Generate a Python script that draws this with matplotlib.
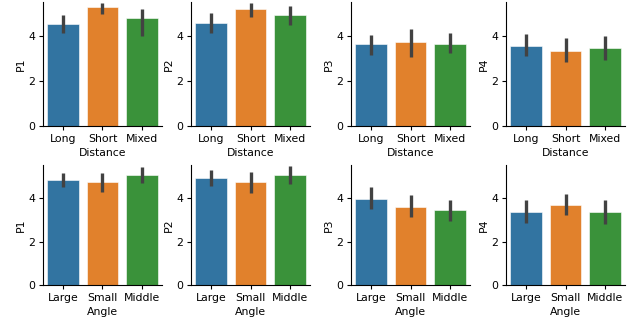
import matplotlib
matplotlib.use("Agg")
import matplotlib.pyplot as plt
import numpy as np

distance_cats = ["Long", "Short", "Mixed"]
angle_cats = ["Large", "Small", "Middle"]
metrics = ["P1", "P2", "P3", "P4"]

# Distance row: means, CI low, CI high per metric
dist_mean = {
    "P1": [4.52, 5.31, 4.82],
    "P2": [4.60, 5.19, 4.93],
    "P3": [3.63, 3.76, 3.67],
    "P4": [3.58, 3.36, 3.48],
}
dist_lo = {
    "P1": [4.12, 4.99, 4.00],
    "P2": [4.12, 4.87, 4.51],
    "P3": [3.15, 3.07, 3.25],
    "P4": [3.10, 2.85, 2.96],
}
dist_hi = {
    "P1": [4.94, 5.49, 5.19],
    "P2": [5.01, 5.49, 5.34],
    "P3": [4.07, 4.30, 4.15],
    "P4": [4.10, 3.93, 4.01],
}

# Angle row
angle_mean = {
    "P1": [4.84, 4.75, 5.04],
    "P2": [4.93, 4.72, 5.06],
    "P3": [3.97, 3.60, 3.45],
    "P4": [3.37, 3.69, 3.34],
}
angle_lo = {
    "P1": [4.51, 4.30, 4.69],
    "P2": [4.54, 4.24, 4.64],
    "P3": [3.49, 3.15, 2.96],
    "P4": [2.85, 3.22, 2.81],
}
angle_hi = {
    "P1": [5.16, 5.13, 5.43],
    "P2": [5.31, 5.19, 5.49],
    "P3": [4.49, 4.12, 3.93],
    "P4": [3.93, 4.19, 3.93],
}

colors = ["#3274a1", "#e1812c", "#3a923a"]

fig = plt.figure(figsize=(6.34, 3.28), dpi=100)
fig.patch.set_facecolor("white")

lefts = [43, 191, 351, 506]
width_px = 119
rows = [
    (distance_cats, dist_mean, dist_lo, dist_hi, "Distance", 2, 126),
    (angle_cats, angle_mean, angle_lo, angle_hi, "Angle", 165, 285),
]

W, H = 634, 328
fs = 7.8
for cats, means, los, his, xlabel, top, bottom in rows:
    for i, m in enumerate(metrics):
        ax = fig.add_axes([lefts[i] / W, 1 - bottom / H, width_px / W, (bottom - top) / H])
        x = np.arange(len(cats))
        ax.bar(x, means[m], width=0.8, color=colors, edgecolor="white", linewidth=0.4)
        for xi, lo, hi in zip(x, los[m], his[m]):
            ax.plot([xi, xi], [lo, hi], color="#424242", lw=2.4, solid_capstyle="butt")
        ax.set_xlim(-0.5, 2.5)
        ax.set_ylim(0, 5.52)
        ax.set_yticks([0, 2, 4])
        ax.set_xticks(x)
        ax.set_xticklabels(cats)
        ax.tick_params(labelsize=fs, length=3, width=0.8, pad=2.5)
        ax.set_xlabel(xlabel, fontsize=fs, labelpad=3)
        ax.set_ylabel(m, fontsize=fs, labelpad=2)
        ax.spines["top"].set_visible(False)
        ax.spines["right"].set_visible(False)
        for s in ["left", "bottom"]:
            ax.spines[s].set_linewidth(0.8)

fig.savefig("out.png", dpi=100, facecolor="white")
